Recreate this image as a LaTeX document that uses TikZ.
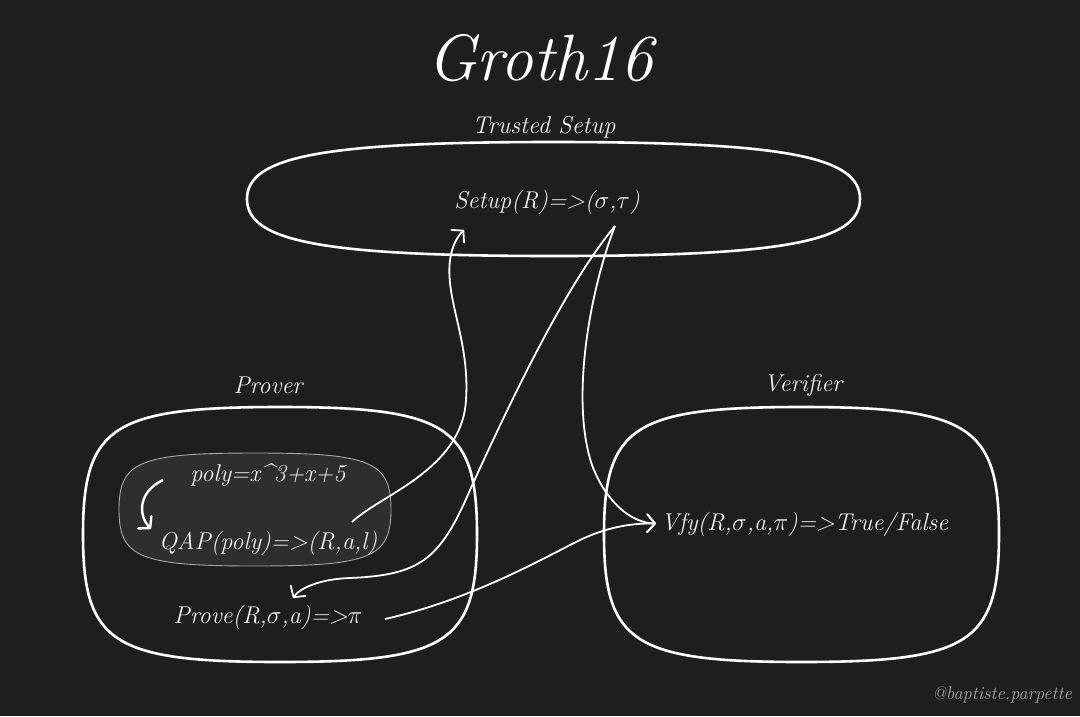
\documentclass[tikz,border=0pt]{standalone}
\usetikzlibrary{arrows.meta,calc}

\definecolor{bgdark}{HTML}{1E1E1E}
\definecolor{qapfill}{HTML}{2E2E2E}
\definecolor{qapline}{HTML}{A8A8A8}
\definecolor{inkwhite}{HTML}{F0F0F0}

% rounded blob: centre x, centre y, half width, half height, squareness
\newcommand{\blob}[5]{({#1+#3},#2) .. controls ({#1+#3},{#2-#5*#4}) and ({#1+#5*#3},{#2-#4}) .. (#1,{#2-#4})
 .. controls ({#1-#5*#3},{#2-#4}) and ({#1-#3},{#2-#5*#4}) .. ({#1-#3},#2)
 .. controls ({#1-#3},{#2+#5*#4}) and ({#1-#5*#3},{#2+#4}) .. (#1,{#2+#4})
 .. controls ({#1+#5*#3},{#2+#4}) and ({#1+#3},{#2+#5*#4}) .. cycle}

\tikzset{
  txt/.style={inner sep=0pt,text=inkwhite,font=\fontsize{24.3}{29}\selectfont\itshape},
  outline/.style={draw=white,line width=2.6pt},
  link/.style={draw=white,line width=1.8pt,-{Straight Barb[length=8pt,width=18pt,round]}}
}

\begin{document}
\begin{tikzpicture}[x=1pt,y=-1pt]
\fill[bgdark] (0,0) rectangle (1080,716);
\useasboundingbox (0,0) rectangle (1080,716);

\draw[outline] \blob{553.5}{199}{306.5}{57}{0.75};
\draw[outline] \blob{280}{534.5}{197}{127.5}{0.85};
\draw[outline] \blob{801.5}{534.5}{197.5}{127.5}{0.85};
\draw[qapline,fill=qapfill,line width=0.9pt] \blob{255}{509.5}{136}{56.5}{0.85};

\node[txt,text=white,font=\fontsize{65.5}{72}\selectfont\itshape] (title) at (540,58) {Groth16};
\node[txt] (trusted) at (544,127) {Trusted Setup};
\node[txt] (proverlbl) at (268,385) {Prover};
\node[txt] (verifierlbl) at (803,385) {Verifier};

\node[txt] (setup) at (547,202) {Setup(R)=>($\sigma$,$\tau$)};
\node[txt] (poly) at (268,475) {poly=x\textasciicircum3+x+5};
\node[txt] (qap) at (268,543) {QAP(poly)=>(R,a,l)};
\node[txt] (prove) at (268,617) {Prove(R,$\sigma$,a)=>$\pi$};
\node[txt,anchor=west] (vfy) at (661,524.5) {Vfy(R,$\sigma$,a,$\pi$)=>True/False};
\node[txt,anchor=base east,text=gray!70!white,font=\fontsize{18.3}{21}\selectfont\itshape] (sign) at (1072,699) {@baptiste.parpette};

% qap to setup
\draw[link] ($(qap)+(84,-21)$) .. controls (380,495) and (462,470) .. (466,400) .. controls (470,340) and (445,300) .. (450,260) .. controls (452,245) and (458,236) .. ($(setup)+(-83,28)$);
% setup to prove and vfy
\draw[link] ($(setup)+(68,24)$) .. controls (570,280) and (520,380) .. (470,490) .. controls (440,560) and (420,575) .. (350,578) .. controls (320,579) and (300,588) .. ($(prove)+(25,-19)$);
\draw[link] ($(setup)+(68,24)$) .. controls (590,290) and (570,400) .. (592,465) .. controls (605,500) and (630,523) .. ($(vfy.west)+(-5,-1)$);
% prove to vfy
\draw[link] ($(prove)+(117,2)$) .. controls (470,600) and (540,560) .. (580,540) .. controls (605,528) and (630,523) .. ($(vfy.west)+(-5,-1)$);
% poly to qap
\draw[link,line width=2.4pt] ($(poly)+(-105,5)$) .. controls (138,492) and (138,515) .. ($(qap)+(-117,-14)$);
\end{tikzpicture}
\end{document}
